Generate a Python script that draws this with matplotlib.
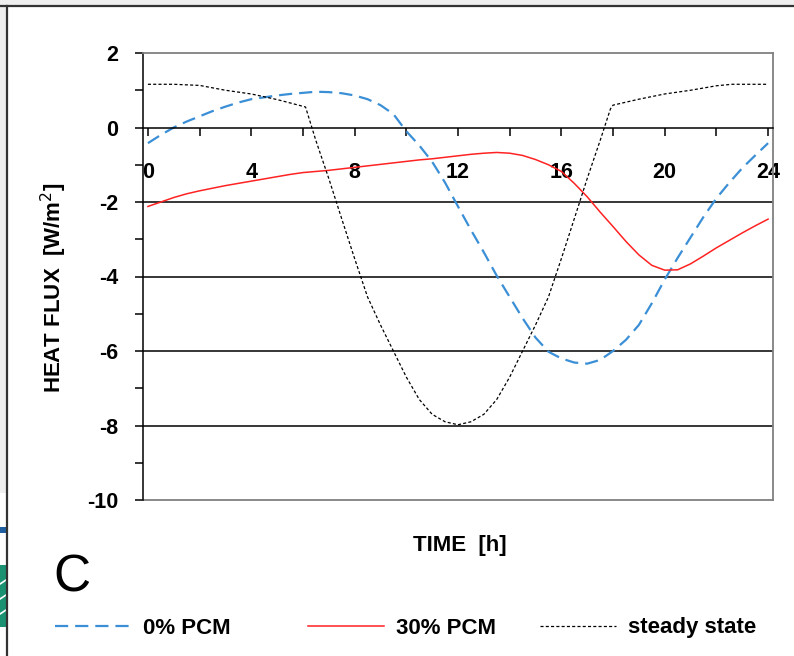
import matplotlib
matplotlib.use("Agg")
import matplotlib.pyplot as plt
from matplotlib.patches import Rectangle
from matplotlib.ticker import MultipleLocator

# half-hour time steps
hours = [i / 2 for i in range(49)]

# heat flux [W/m2]
pcm0 = [-0.42, -0.2, 0.0, 0.16, 0.3, 0.44, 0.56, 0.67, 0.76, 0.81,
        0.86, 0.9, 0.93, 0.96, 0.95, 0.92, 0.86, 0.76, 0.6, 0.36,
        -0.1, -0.48, -0.92, -1.48, -2.12, -2.75, -3.35, -3.98, -4.55, -5.12,
        -5.64, -6.02, -6.2, -6.31, -6.34, -6.24, -6.0, -5.7, -5.3, -4.72,
        -4.08, -3.5, -2.95, -2.4, -1.9, -1.48, -1.09, -0.75, -0.42]
pcm30 = [-2.12, -2.0, -1.88, -1.78, -1.7, -1.63, -1.56, -1.5, -1.44, -1.38,
         -1.32, -1.26, -1.21, -1.18, -1.15, -1.11, -1.07, -1.03, -0.99, -0.95,
         -0.91, -0.87, -0.84, -0.8, -0.76, -0.72, -0.69, -0.67, -0.69, -0.75,
         -0.86, -1.0, -1.18, -1.5, -1.86, -2.27, -2.66, -3.06, -3.42, -3.7,
         -3.83, -3.82, -3.66, -3.45, -3.23, -3.03, -2.83, -2.64, -2.46]
steady_t = [0, 1, 2, 3, 4, 5, 5.5, 6.1, 6.5, 7, 7.5, 8, 8.5, 9, 9.5, 10, 10.5,
            11, 11.5, 12, 12.5, 13, 13.5, 14, 14.5, 15, 15.5, 16, 16.5, 17,
            17.5, 17.9, 18, 19, 20, 21, 22, 22.6, 24]
steady = [1.16, 1.16, 1.13, 1.0, 0.9, 0.75, 0.66, 0.55, -0.35, -1.37, -2.45,
          -3.52, -4.55, -5.3, -6.0, -6.7, -7.3, -7.7, -7.9, -7.98, -7.9, -7.7,
          -7.3, -6.7, -6.0, -5.3, -4.55, -3.52, -2.45, -1.37, -0.35, 0.5, 0.6,
          0.76, 0.9, 1.0, 1.12, 1.16, 1.16]

x_labels = [0, 4, 8, 12, 16, 20, 24]
grid_levels = [-2, -4, -6, -8]

plt.rcParams['font.family'] = ['Liberation Sans', 'DejaVu Sans']
plt.rcParams['lines.scale_dashes'] = False
plt.rcParams['axes.unicode_minus'] = False

W, H = 794, 656
fig = plt.figure(figsize=(W / 100, H / 100), dpi=100)

# background decoration in pixel coordinates
deco = fig.add_axes([0, 0, 1, 1], zorder=0)
deco.set_xlim(0, W)
deco.set_ylim(H, 0)
deco.axis('off')
deco.add_patch(Rectangle((0, 0), W, 6, color='#efefef', lw=0))
deco.add_patch(Rectangle((0, 0), 7, 493, color='#efefef', lw=0))
deco.add_patch(Rectangle((0, 527), 6, 6, color='#1f5f9f', lw=0))
deco.add_patch(Rectangle((0, 565), 6, 62, color='#1a9272', lw=0))
for yy in (580, 595, 610):
    deco.plot([0, 6], [yy + 4, yy], color='white', lw=1.2)
deco.plot([0, W], [6, 6], color='#333333', lw=1.6)
deco.plot([7, 7], [6, H], color='#333333', lw=1.6)

deco.text(54, 288, 'HEAT FLUX  [W/m$^2$]', rotation=90, ha='center',
          va='center', fontsize=16, fontweight='bold')
deco.text(460, 546, 'TIME  [h]', ha='center', va='center', fontsize=16,
          fontweight='bold')
deco.text(72, 578, 'C', ha='center', va='center', fontsize=37)

# plot area
ax = fig.add_axes([143 / W, 1 - 500 / H, 630 / W, 447 / H], zorder=2)
ax.patch.set_alpha(0)
ax.set_xlim(-0.19, 24.19)
ax.set_ylim(-10, 2)

l0, = ax.plot(hours, pcm0, color='#3b8fd6', lw=1.6, dashes=(9.5, 5),
              label='0% PCM')
l30, = ax.plot(hours, pcm30, color='#ff2222', lw=1.1, label='30% PCM')
ls, = ax.plot(steady_t, steady, color='black', lw=0.9, dashes=(2.2, 1.6),
              label='steady state')

for g in grid_levels:
    ax.axhline(g, color='black', lw=1.1, zorder=1)
ax.axhline(-10, color='#808080', lw=1.3, clip_on=False)

ax.spines['bottom'].set_position(('data', 0))
ax.spines['bottom'].set_color('black')
ax.spines['bottom'].set_linewidth(1.1)
ax.spines['left'].set_color('black')
ax.spines['left'].set_linewidth(1.1)
for s in ('top', 'right'):
    ax.spines[s].set_color('#808080')
    ax.spines[s].set_linewidth(1.3)

ax.set_xticks(x_labels)
ax.set_xticklabels([str(v) for v in x_labels])
ax.xaxis.set_minor_locator(MultipleLocator(2))
ax.yaxis.set_major_locator(MultipleLocator(2))
ax.yaxis.set_minor_locator(MultipleLocator(1))
ax.tick_params(axis='x', which='both', direction='out', length=6, width=1.1,
               pad=19)
ax.tick_params(axis='y', which='both', direction='out', length=6, width=1.1,
               pad=12)
ax.tick_params(labelsize=15.5)
for lab in ax.get_xticklabels() + ax.get_yticklabels():
    lab.set_fontweight('bold')

# legend, one entry per slot like the original
legend_font = {'family': 'Liberation Sans', 'weight': 'bold', 'size': 16}
for handle, xpix in ((l0, 55), (l30, 308), (ls, 540)):
    fig.legend(handles=[handle], loc='center left',
               bbox_to_anchor=(xpix / W, 1 - 628 / H), frameon=False,
               prop=legend_font, handlelength=3.4, handletextpad=0.55,
               borderpad=0, borderaxespad=0)

fig.savefig('out.png', dpi=100)
